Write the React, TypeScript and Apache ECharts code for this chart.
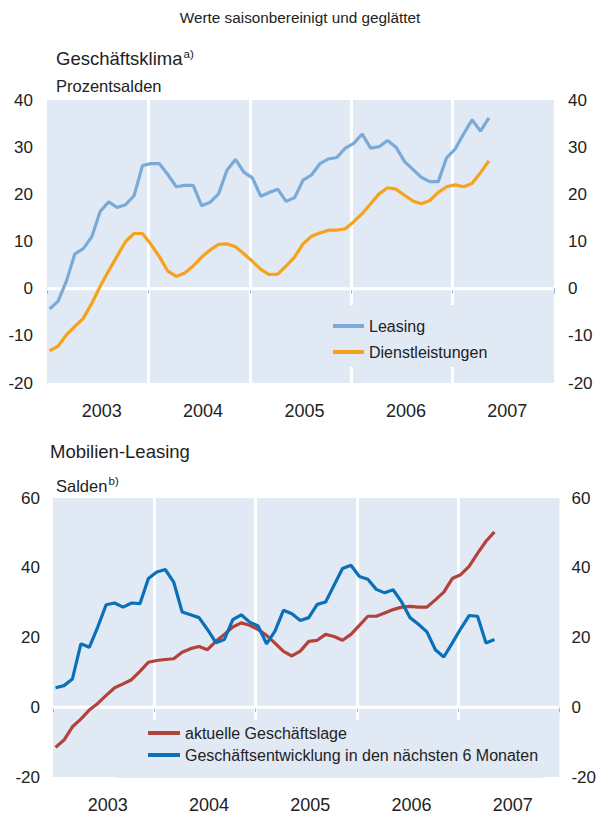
import React, { useEffect, useRef } from "react";
import * as echarts from "echarts";

// ---- data (monthly, Jan 2003 .. May 2007) ----
const years = ["2003", "2004", "2005", "2006", "2007"];
const leasing = [
  -4.3, -2.7, 1.6, 7.4, 8.5, 11.0, 16.4, 18.4, 17.2, 17.8, 19.7, 26.1,
  26.5, 26.5, 24.2, 21.6, 21.9, 21.9, 17.6, 18.3, 20.1, 25.1, 27.4, 24.7,
  23.5, 19.6, 20.4, 21.1, 18.5, 19.3, 23.0, 24.1, 26.5, 27.5, 27.8, 29.8,
  30.8, 32.8, 29.8, 30.1, 31.4, 30.0, 27.0, 25.3, 23.6, 22.7, 22.7, 27.8,
  29.6, 32.8, 35.8, 33.4, 36.2,
];
const dienstleistungen = [
  -13.2, -12.2, -9.8, -8.0, -6.3, -3.1, 0.5, 3.8, 6.9, 10.0, 11.7, 11.7,
  9.4, 6.8, 3.7, 2.6, 3.3, 4.8, 6.7, 8.2, 9.4, 9.5, 8.9, 7.4,
  5.8, 4.1, 3.0, 3.1, 4.8, 6.7, 9.5, 11.1, 11.8, 12.4, 12.4, 12.7,
  14.2, 15.9, 18.0, 20.1, 21.4, 21.1, 19.8, 18.6, 18.0, 18.7, 20.4, 21.6,
  22.0, 21.6, 22.3, 24.6, 27.1,
];
const aktuelleLage = [
  -11.5, -9.4, -5.6, -3.4, -0.8, 1.1, 3.4, 5.6, 6.7, 7.9, 10.3, 12.9,
  13.4, 13.7, 13.9, 15.8, 16.8, 17.4, 16.5, 18.9, 20.9, 23.0, 24.2, 23.5,
  22.3, 20.6, 18.4, 16.0, 14.7, 16.1, 18.9, 19.2, 20.9, 20.3, 19.2, 20.9,
  23.5, 26.1, 26.1, 27.0, 28.0, 28.7, 28.9, 28.7, 28.7, 30.8, 33.0, 36.9,
  38.0, 40.4, 44.1, 47.6, 50.3,
];
const entwicklung6M = [
  5.6, 6.2, 8.1, 18.2, 17.2, 23.0, 29.4, 29.9, 28.7, 29.9, 29.7, 36.9,
  38.8, 39.5, 35.9, 27.3, 26.5, 25.7, 22.3, 18.5, 19.4, 25.1, 26.5, 24.4,
  23.3, 18.2, 21.8, 27.8, 26.8, 24.9, 25.7, 29.5, 30.2, 35.0, 39.8, 40.7,
  37.5, 36.7, 33.8, 32.8, 33.7, 30.2, 25.7, 23.8, 21.6, 16.5, 14.4, 18.4,
  22.5, 26.3, 26.1, 18.4, 19.4,
];
const zeroLine = [[0, 0], [60, 0]];

const FONT = "'Liberation Sans', Arial, sans-serif";
const BG = "#e1e9f5";
const AXIS = "#8fb5e2";
const TXT = "#222222";

const toPoints = (vals: number[]) => vals.map((v, i) => [i + 0.3, v]);

export default function App() {
  const ref = useRef<HTMLDivElement>(null);

  useEffect(() => {
    document.body.style.margin = "0";
    const chart = echarts.init(ref.current!, null, { renderer: "svg" });

    const grid = (left: number, right: number, top: number, height: number) => ({
      left, right, top, height, show: true, backgroundColor: BG, borderWidth: 0,
    });
    const valueX = (gi: number) => ({
      type: "value", gridIndex: gi, min: 0, max: 60, interval: 12,
      axisLine: { show: true, lineStyle: { color: AXIS, width: 1 } },
      axisTick: { show: true, length: 5, lineStyle: { color: AXIS, width: 1 } },
      axisLabel: { show: false },
      splitLine: { show: true, showMinLine: false, showMaxLine: false, lineStyle: { color: "#ffffff", width: 3 } },
    });
    const yearX = (gi: number, margin: number) => ({
      type: "category", gridIndex: gi, position: "bottom", data: years, boundaryGap: true,
      axisLine: { show: false }, axisTick: { show: false }, splitLine: { show: false },
      axisLabel: { margin, fontSize: 18, color: TXT, fontFamily: FONT, padding: [0, 0, 0, 8] },
    });
    const yAx = (gi: number, pos: string, min: number, max: number, interval: number, margin: number) => ({
      type: "value", gridIndex: gi, position: pos, min, max, interval,
      axisLine: { show: false }, axisTick: { show: false }, splitLine: { show: false },
      axisLabel: { margin, fontSize: 17, color: TXT, fontFamily: FONT },
    });
    const line = (name: string, vals: number[], color: string, xi: number, yi: number) => ({
      name, type: "line", xAxisIndex: xi, yAxisIndex: yi, data: toPoints(vals),
      symbol: "none", z: 3, lineStyle: { color, width: 3.2 }, itemStyle: { color },
    });
    const zero = (xi: number, yi: number) => ({
      type: "line", xAxisIndex: xi, yAxisIndex: yi, data: zeroLine, symbol: "none",
      z: 1, silent: true, lineStyle: { color: "#ffffff", width: 3 },
    });
    const txt = (text: string, x: number, y: number, fontSize: number, align = "left") => ({
      type: "text", x, y,
      style: { text, fontSize, fontFamily: FONT, fill: TXT, textAlign: align, textVerticalAlign: "middle" },
    });

    chart.setOption({
      animation: false,
      grid: [grid(47, 45, 100, 283), grid(53, 38, 498, 279)],
      xAxis: [valueX(0), yearX(0, 19), valueX(1), yearX(1, 19)],
      yAxis: [
        yAx(0, "left", -20, 40, 10, 14), yAx(0, "right", -20, 40, 10, 14),
        yAx(1, "left", -20, 60, 20, 13), yAx(1, "right", -20, 60, 20, 12),
      ],
      legend: [
        {
          data: ["Leasing", "Dienstleistungen"], orient: "vertical", left: 325, top: 305,
          padding: [12, 30, 6, 8], itemWidth: 31, itemHeight: 4, icon: "rect", itemGap: 8,
          backgroundColor: BG, selectedMode: false,
          textStyle: { fontSize: 16, color: TXT, fontFamily: FONT, lineHeight: 18 },
        },
        {
          data: ["aktuelle Geschäftslage", "Geschäftsentwicklung in den nächsten 6 Monaten"],
          orient: "vertical", left: 117, top: 720,
          padding: [4, 5, 14, 31], itemWidth: 32, itemHeight: 4, icon: "rect", itemGap: 4,
          backgroundColor: BG, selectedMode: false,
          textStyle: { fontSize: 16, color: TXT, fontFamily: FONT, lineHeight: 18 },
        },
      ],
      series: [
        zero(0, 0),
        zero(2, 2),
        line("Leasing", leasing, "#7aaad8", 0, 0),
        line("Dienstleistungen", dienstleistungen, "#f7a21b", 0, 0),
        line("aktuelle Geschäftslage", aktuelleLage, "#b3423a", 2, 2),
        line("Geschäftsentwicklung in den nächsten 6 Monaten", entwicklung6M, "#0a71b8", 2, 2),
      ],
      graphic: [
        txt("Werte saisonbereinigt und geglättet", 300, 17.5, 15.3, "center"),
        txt("Geschäftsklima", 56, 58.5, 18.5),
        txt("a)", 183.5, 54, 11.5),
        txt("Prozentsalden", 56, 86, 16.5),
        txt("Mobilien-Leasing", 50, 451.5, 18.5),
        txt("Salden", 56, 486, 16.5),
        txt("b)", 108.5, 480.5, 11.5),
      ],
    });

    return () => chart.dispose();
  }, []);

  return <div ref={ref} style={{ width: 599, height: 816 }} />;
}
